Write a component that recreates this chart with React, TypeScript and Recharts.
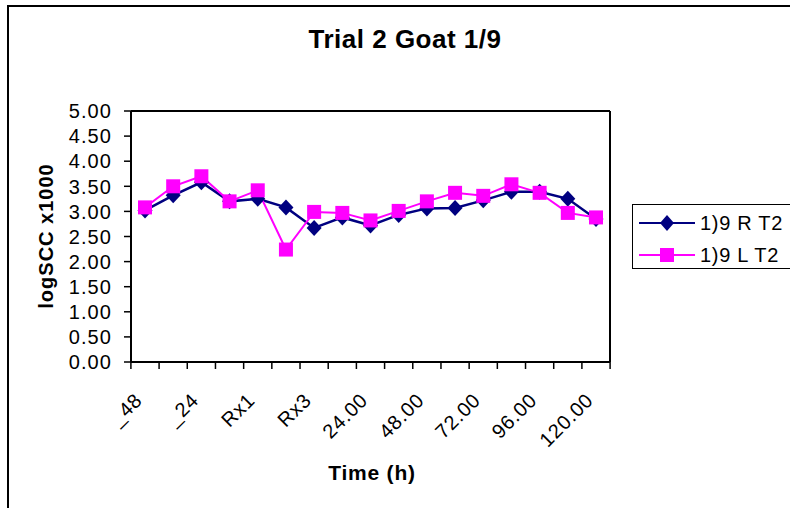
import React from "react";
import { LineChart, Line, XAxis, YAxis, Legend, Customized, ReferenceLine } from "recharts";

const categories = ["_48", "_36", "_24", "_12", "Rx1", "Rx2", "Rx3", "12.00", "24.00", "36.00", "48.00", "60.00", "72.00", "84.00", "96.00", "108.00", "120.00"];
const seriesR = [3.02, 3.32, 3.58, 3.2, 3.25, 3.08, 2.67, 2.88, 2.72, 2.93, 3.06, 3.07, 3.22, 3.39, 3.39, 3.25, 2.85];
const seriesL = [3.08, 3.5, 3.7, 3.2, 3.42, 2.24, 2.99, 2.97, 2.82, 3.01, 3.2, 3.37, 3.31, 3.54, 3.37, 2.97, 2.88];
const yTicks = [0, 0.5, 1, 1.5, 2, 2.5, 3, 3.5, 4, 4.5, 5];
const nameR = "1)9 R T2";
const nameL = "1)9 L T2";
const title = "Trial 2 Goat 1/9";
const xTitle = "Time (h)";
const yTitle = "logSCC x1000";

const data = categories.map((c, i) => ({ cat: c, r: seriesR[i], l: seriesL[i] }));

const FONT = "'Liberation Sans', Arial, sans-serif";
const NAVY = "#000080";
const MAGENTA = "#FF00FF";
const PAD = 14;
const HALF = 14.1;

const Diamond = (props: any) => {
  const { cx, cy, index } = props;
  if (cx == null || cy == null) return <g key={`d${index}`} />;
  return <path key={`d${index}`} d={`M${cx},${cy - 8} L${cx + 7.5},${cy} L${cx},${cy + 8} L${cx - 7.5},${cy} Z`} fill={NAVY} />;
};

const Square = (props: any) => {
  const { cx, cy, index } = props;
  if (cx == null || cy == null) return <g key={`s${index}`} />;
  return <rect key={`s${index}`} x={cx - 7} y={cy - 7} width={14} height={14} fill={MAGENTA} />;
};

const XTick = (props: any) => {
  const { x, y, payload, index } = props;
  const i = payload && payload.index != null ? payload.index : index;
  const last = i === categories.length - 1;
  return (
    <g>
      <line x1={x - HALF} y1={y} x2={x - HALF} y2={y + 7} stroke="#000" strokeWidth={1.5} />
      {last && <line x1={x + HALF} y1={y} x2={x + HALF} y2={y + 7} stroke="#000" strokeWidth={1.5} />}
      {i % 2 === 0 && (
        <text
          x={x - 1.5}
          y={y + 39.5}
          textAnchor="end"
          transform={`rotate(-45, ${x - 1.5}, ${y + 39.5})`}
          fontFamily={FONT}
          fontSize={20}
          letterSpacing={0.8}
          fill="#000"
        >
          {payload.value}
        </text>
      )}
    </g>
  );
};

const YTick = (props: any) => {
  const { x, y, payload } = props;
  return (
    <text x={x} y={y} dy="0.36em" textAnchor="end" fontFamily={FONT} fontSize={20} letterSpacing={1.1} fill="#000">
      {Number(payload.value).toFixed(2)}
    </text>
  );
};

const Titles = () => (
  <g>
    <text x={405} y={48} textAnchor="middle" fontFamily={FONT} fontWeight="bold" fontSize={26} letterSpacing={0.5} fill="#000">
      {title}
    </text>
    <text x={372} y={480} textAnchor="middle" fontFamily={FONT} fontWeight="bold" fontSize={21} letterSpacing={0.8} fill="#000">
      {xTitle}
    </text>
    <text
      x={53}
      y={236}
      textAnchor="middle"
      transform="rotate(-90, 53, 236)"
      fontFamily={FONT}
      fontWeight="bold"
      fontSize={20}
      letterSpacing={1}
      fill="#000"
    >
      {yTitle}
    </text>
  </g>
);

const LegendBox = () => {
  const rows = [
    { name: nameR, color: NAVY, kind: "d" },
    { name: nameL, color: MAGENTA, kind: "s" },
  ];
  return (
    <div style={{ border: "1px solid #000", width: 170, height: 65, boxSizing: "border-box", paddingTop: 2, background: "#fff" }}>
      {rows.map((r) => (
        <div key={r.name} style={{ display: "flex", alignItems: "center", height: 32 }}>
          <svg width={56} height={20} style={{ marginLeft: 6, marginRight: 5 }}>
            <line x1={0} y1={10} x2={56} y2={10} stroke={r.color} strokeWidth={2} />
            {r.kind === "d" ? (
              <path d="M28,2 L35,10 L28,18 L21,10 Z" fill={r.color} />
            ) : (
              <rect x={21} y={3} width={14} height={14} fill={r.color} />
            )}
          </svg>
          <span style={{ fontFamily: FONT, fontSize: 20, letterSpacing: 0.7, color: "#000", lineHeight: "20px" }}>{r.name}</span>
        </div>
      ))}
    </div>
  );
};

export default function App() {
  return (
    <div style={{ position: "absolute", left: 0, top: 0, width: 790, height: 508, overflow: "hidden", background: "#fff" }}>
      <div
        style={{
          position: "absolute",
          left: 7,
          top: 5,
          width: 900,
          height: 600,
          borderTop: "2px solid #000",
          borderLeft: "2px solid #000",
        }}
      />
      <div style={{ position: "absolute", left: 0, top: 0 }}>
        <LineChart width={790} height={508} data={data} margin={{ top: 110, right: 179, bottom: 0, left: 0 }}>
          <XAxis
            dataKey="cat"
            xAxisId={0}
            height={146}
            interval={0}
            padding={{ left: PAD, right: PAD }}
            tickSize={0}
            tickMargin={0}
            tickLine={false}
            axisLine={{ stroke: "#000", strokeWidth: 2 }}
            tick={<XTick />}
          />
          <XAxis
            dataKey="cat"
            xAxisId="top"
            orientation="top"
            height={1}
            padding={{ left: PAD, right: PAD }}
            tick={false}
            tickLine={false}
            axisLine={{ stroke: "#000", strokeWidth: 2 }}
          />
          <YAxis
            yAxisId={0}
            width={131}
            domain={[0, 5]}
            ticks={yTicks}
            interval={0}
            tickSize={7}
            tickMargin={12}
            tickLine={{ stroke: "#000", strokeWidth: 1.5 }}
            axisLine={{ stroke: "#000", strokeWidth: 2 }}
            tick={<YTick />}
          />
          <YAxis
            yAxisId="right"
            orientation="right"
            width={1}
            domain={[0, 5]}
            tick={false}
            tickLine={false}
            axisLine={{ stroke: "#000", strokeWidth: 2 }}
          />
          <Line
            type="linear"
            dataKey="r"
            name={nameR}
            stroke={NAVY}
            strokeWidth={2.5}
            dot={Diamond}
            activeDot={false}
            isAnimationActive={false}
          />
          <Line
            type="linear"
            dataKey="l"
            name={nameL}
            stroke={MAGENTA}
            strokeWidth={2}
            dot={Square}
            activeDot={false}
            isAnimationActive={false}
          />
          <Legend
            layout="horizontal"
            verticalAlign="middle"
            align="center"
            content={<LegendBox />}
            wrapperStyle={{ position: "absolute", left: 632, top: 204, width: 170, height: 65, bottom: "auto", right: "auto" }}
          />
          <Customized component={Titles} />
        </LineChart>
      </div>
    </div>
  );
}
